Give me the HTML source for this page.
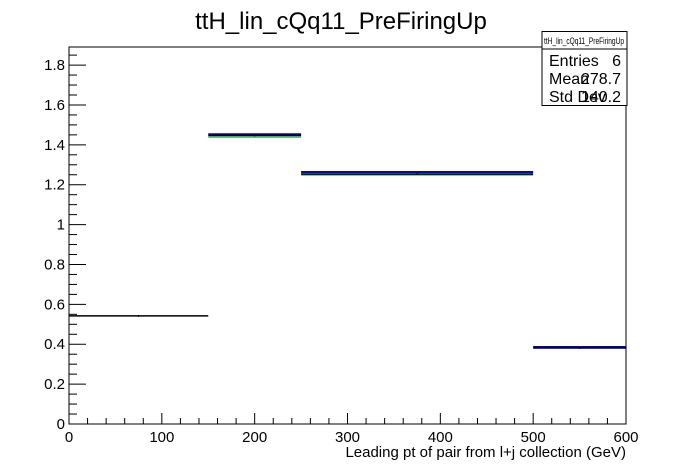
<!DOCTYPE html>
<html><head><meta charset="utf-8"><style>
body{margin:0;background:#fff}
svg{display:block;font-family:"Liberation Sans",Arial,sans-serif}
</style></head><body>
<svg id="c" width="696" height="472" viewBox="0 0 696 472">
<rect width="696" height="472" fill="#fff"/>
<text x="341" y="29" font-size="24" text-anchor="middle">ttH_lin_cQq11_PreFiringUp</text>
<rect x="69" y="47" width="557" height="377" fill="none" stroke="#000" stroke-width="1"/>
<g id="axes"></g>
<g id="marks"></g>
<text x="626" y="457" font-size="15" text-anchor="end">Leading pt of pair from l+j collection (GeV)</text>
<g>
<rect x="542" y="31.5" width="85" height="74" fill="#fff" stroke="#000"/>
<line x1="542" y1="49" x2="627" y2="49" stroke="#000"/>
<text x="544" y="44" font-size="9" textLength="80" lengthAdjust="spacingAndGlyphs">ttH_lin_cQq11_PreFiringUp</text>
<text x="549" y="66" font-size="16">Entries</text><text x="621" y="66" font-size="16" text-anchor="end">6</text>
<text x="549" y="84" font-size="16">Mean</text><text x="621" y="84" font-size="16" text-anchor="end">278.7</text>
<text x="549" y="102" font-size="16">Std Dev</text><text x="621" y="102" font-size="16" text-anchor="end">140.2</text>
</g>
</svg>
<script>
const binEdges=[0,150,250,500,600];
const blackValues=[0.542,1.447,1.254,0.381];
const blueValues=[null,1.453,1.264,0.386];
const greenValues=[null,1.439,1.249,null];
const xTicks=[0,100,200,300,400,500,600];
const yTicks=[0,0.2,0.4,0.6,0.8,1,1.2,1.4,1.6,1.8];
const NS="http://www.w3.org/2000/svg";
const X=v=>69+v*557/600;
const Y=v=>424-v*199.4;
function mk(t,a,p){const e=document.createElementNS(NS,t);for(const k in a)e.setAttribute(k,a[k]);p.appendChild(e);return e;}
const ax=document.getElementById('axes'),mg=document.getElementById('marks');
for(let v=0;v<=600;v+=20){const maj=v%100===0;const l=mk('line',{x1:X(v),x2:X(v),y1:424,y2:424-(maj?11:6),stroke:'#000'},ax);
}
xTicks.forEach(v=>{const t=mk('text',{x:X(v),y:442,'font-size':15,'text-anchor':'middle'},ax);t.textContent=String(v);
});
for(let i=0;i*0.05<=1.88;i++){const v=i*0.05;const maj=i%4===0;const l=mk('line',{x1:69,x2:69+(maj?17:8),y1:Y(v),y2:Y(v),stroke:'#000'},ax);
}
yTicks.forEach(v=>{const t=mk('text',{x:65,y:Y(v)+5,'font-size':15,'text-anchor':'end'},ax);t.textContent=String(v);
});
function series(vals,color,w,name){vals.forEach((v,i)=>{if(v==null)return;
const l=mk('line',{x1:X(binEdges[i]),x2:X(binEdges[i+1]),y1:Y(v),y2:Y(v),stroke:color,'stroke-width':w},mg);
});}
series(greenValues,'#00aa00',1,'green');
series(blueValues,'#0000dd',2,'blue');
series(blackValues,'#000',1.5,'black');
blackValues.forEach((v,i)=>{const c=X((binEdges[i]+binEdges[i+1])/2);
const l=mk('line',{x1:c,x2:c,y1:Y(v)-1,y2:Y(v)+1,stroke:'#000'},mg);
});
</script>
</body></html>
